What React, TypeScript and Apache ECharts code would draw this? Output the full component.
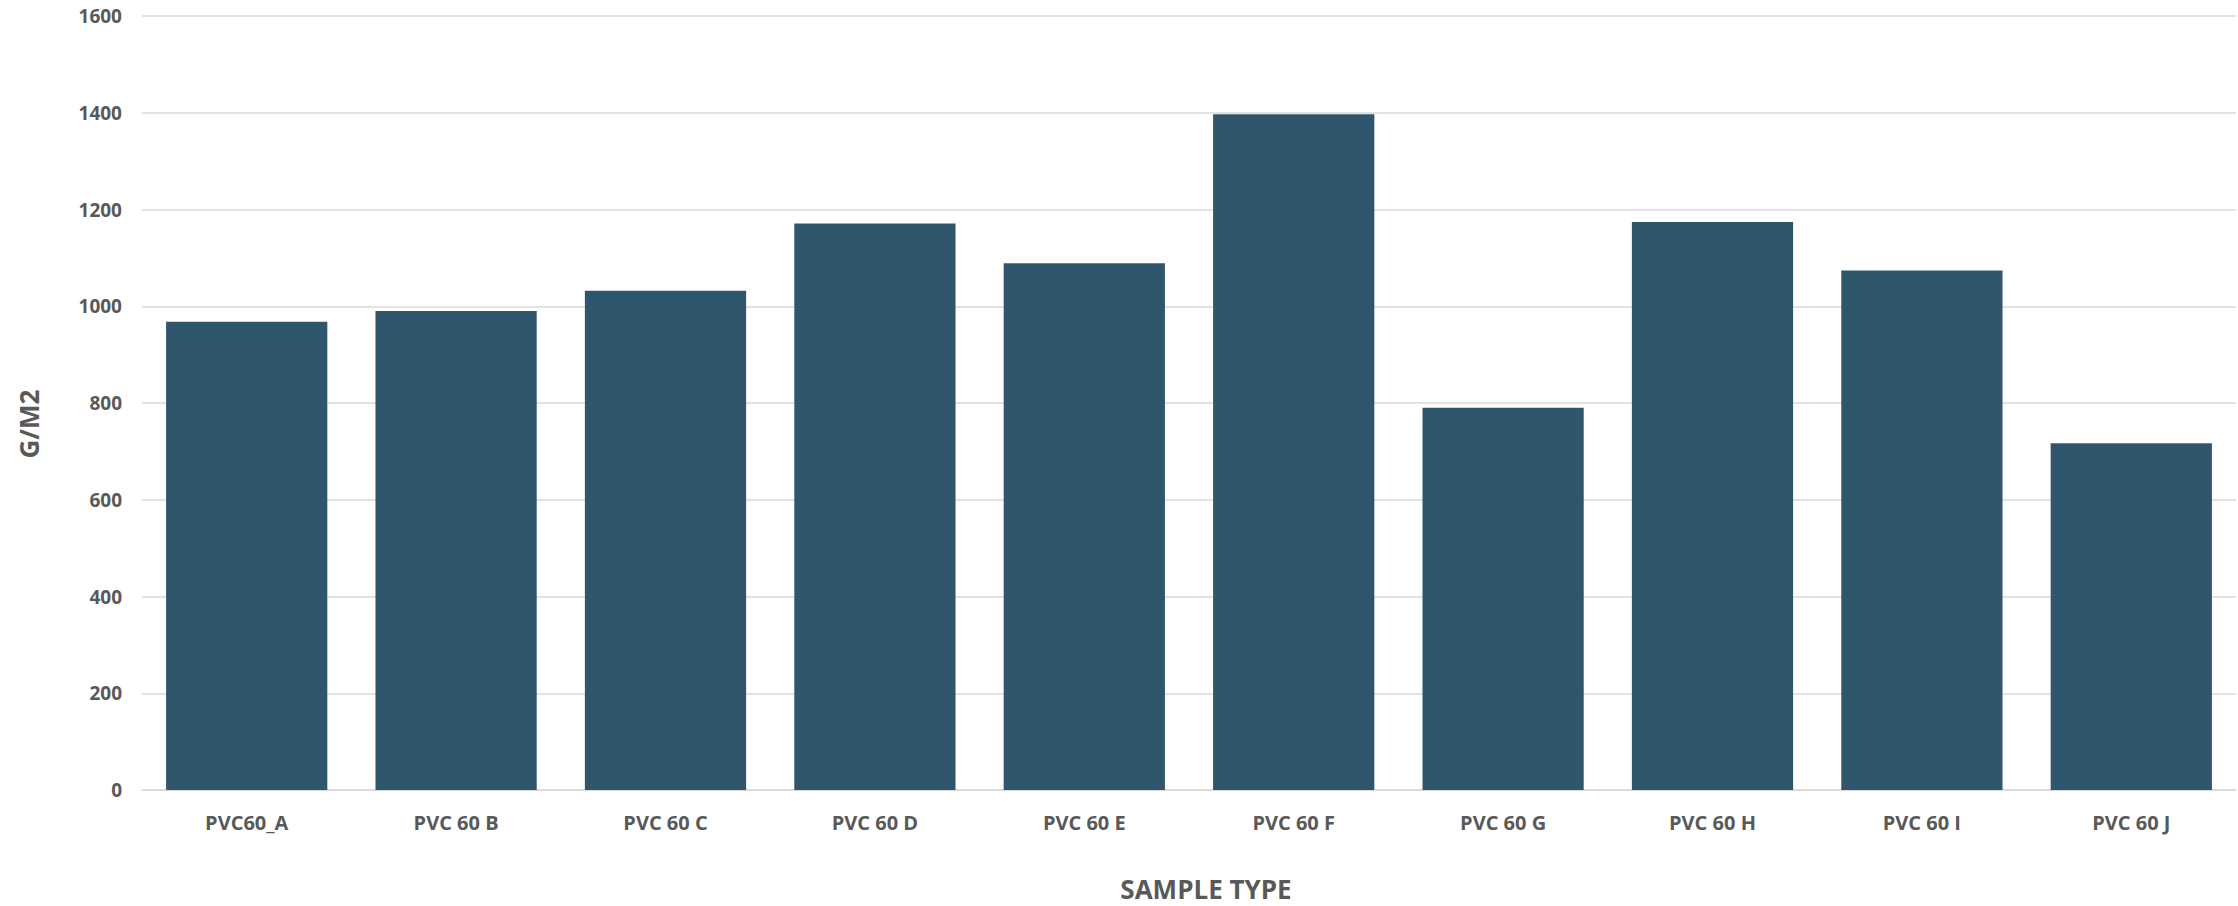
import React, { useEffect, useRef } from "react";
import * as echarts from "echarts";

// Sample categories and measured weights (g/m²)
const categories = [
  "PVC60_A",
  "PVC 60 B",
  "PVC 60 C",
  "PVC 60 D",
  "PVC 60 E",
  "PVC 60 F",
  "PVC 60 G",
  "PVC 60 H",
  "PVC 60 I",
  "PVC 60 J",
];
const weights = [968, 990, 1032, 1171, 1089, 1397, 790, 1174, 1074, 717];

const yTicks = { min: 0, max: 1600, interval: 200 };
const xTitle = "SAMPLE TYPE";
const yTitle = "G/M2";

const TEXT = "#595959";
const GRID = "#d9d9d9";
const BAR = "#30566e";
const FONT = "'Open Sans', 'Liberation Sans', sans-serif";

export default function App() {
  const ref = useRef<HTMLDivElement>(null);

  useEffect(() => {
    if (!ref.current) return;
    const chart = echarts.init(ref.current, undefined, { renderer: "svg" });
    chart.setOption({
      animation: false,
      backgroundColor: "#ffffff",
      grid: { left: 142, right: 2, top: 16, bottom: 116, containLabel: false },
      xAxis: {
        type: "category",
        data: categories,
        axisLine: { show: true, lineStyle: { color: GRID, width: 1.5 } },
        axisTick: { show: false },
        axisLabel: {
          color: TEXT,
          fontFamily: FONT,
          fontWeight: "bold",
          fontSize: 20,
          margin: 22,
        },
      },
      yAxis: {
        type: "value",
        min: yTicks.min,
        max: yTicks.max,
        interval: yTicks.interval,
        axisLine: { show: false },
        axisTick: { show: false },
        splitLine: { lineStyle: { color: GRID, width: 1.5 } },
        axisLabel: {
          color: TEXT,
          fontFamily: FONT,
          fontWeight: "bold",
          fontSize: 19,
          margin: 20,
          formatter: (v: number) => String(v),
        },
      },
      series: [
        {
          type: "bar",
          data: weights,
          barCategoryGap: "23%",
          itemStyle: { color: BAR },
        },
      ],
      graphic: [
        {
          type: "text",
          x: 1206,
          y: 889,
          style: {
            text: xTitle,
            fill: TEXT,
            font: `bold 26px ${FONT}`,
            align: "center",
            verticalAlign: "middle",
          },
        },
        {
          type: "text",
          x: 29,
          y: 424,
          rotation: Math.PI / 2,
          style: {
            text: yTitle,
            fill: TEXT,
            font: `bold 26px ${FONT}`,
            align: "center",
            verticalAlign: "middle",
          },
        },
      ],
    });
    return () => chart.dispose();
  }, []);

  return (
    <div
      ref={ref}
      style={{ position: "fixed", left: 0, top: 0, width: 2238, height: 906 }}
    />
  );
}
